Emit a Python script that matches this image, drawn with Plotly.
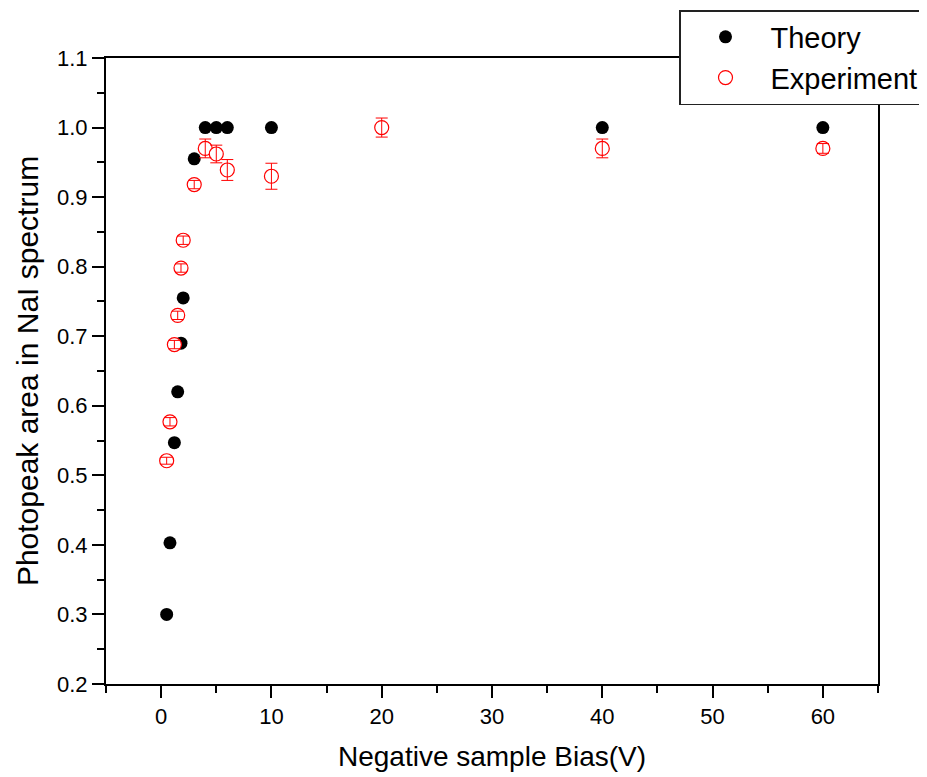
import plotly.graph_objects as go

theory_x = [0.5, 0.8, 1.2, 1.5, 1.8, 2.0, 3, 4, 5, 6, 10, 20, 40, 60]
theory_y = [0.300, 0.403, 0.547, 0.620, 0.690, 0.755, 0.955, 1.0, 1.0, 1.0, 1.0, 1.0, 1.0, 1.0]

exp_x = [0.5, 0.8, 1.2, 1.5, 1.8, 2.0, 3, 4, 5, 6, 10, 20, 40, 60]
exp_y = [0.521, 0.577, 0.688, 0.730, 0.798, 0.838, 0.918, 0.970, 0.962, 0.939, 0.930, 1.000, 0.970, 0.970]
exp_err = [0.005, 0.006, 0.006, 0.006, 0.006, 0.006, 0.006, 0.0135, 0.0127, 0.015, 0.0187, 0.0137, 0.0135, 0.007]

y_ticks = [0.2, 0.3, 0.4, 0.5, 0.6, 0.7, 0.8, 0.9, 1.0, 1.1]
x_ticks = [0, 10, 20, 30, 40, 50, 60]

FONT = "Liberation Sans, Arial, sans-serif"

fig = go.Figure()
fig.add_trace(go.Scatter(
    x=theory_x, y=theory_y, mode="markers", name="Theory",
    marker=dict(symbol="circle", size=13, color="black", line=dict(width=0)),
))
fig.add_trace(go.Scatter(
    x=exp_x, y=exp_y, mode="markers", name="Experiment",
    marker=dict(symbol="circle", size=14, color="white", line=dict(color="red", width=1.2)),
))
fig.add_trace(go.Scatter(
    x=exp_x, y=exp_y, mode="markers", showlegend=False, hoverinfo="skip",
    marker=dict(size=1, color="rgba(0,0,0,0)"),
    error_y=dict(type="data", array=exp_err, visible=True, color="red", thickness=1, width=6),
))

axis_common = dict(
    showgrid=False, zeroline=False, showline=True, linecolor="black", linewidth=2,
    mirror=True, ticks="outside", ticklen=12, tickwidth=2, tickcolor="black",
    tickfont=dict(family=FONT, size=22, color="black"),
)

fig.update_xaxes(
    range=[-5, 65], tickvals=x_ticks,
    minor=dict(dtick=5, tick0=0, ticks="outside", ticklen=7, tickwidth=2, tickcolor="black"),
    title=dict(text="Negative sample Bias(V)", font=dict(family=FONT, size=28, color="black"), standoff=18),
    **axis_common,
)
fig.update_yaxes(
    range=[0.2, 1.1], tickvals=y_ticks, ticktext=[f"{v:.1f}" for v in y_ticks],
    minor=dict(dtick=0.05, tick0=0.2, ticks="outside", ticklen=7, tickwidth=2, tickcolor="black"),
    title=dict(text="Photopeak area in NaI spectrum", font=dict(family=FONT, size=30, color="black"), standoff=10),
    **axis_common,
)

# page body has an 8px margin, so the figure is laid out 8px smaller
fig.update_layout(
    width=919, height=769,
    margin=dict(l=98, r=49, t=50, b=93, autoexpand=False),
    paper_bgcolor="white", plot_bgcolor="white",
    showlegend=True,
    legend=dict(
        x=(671 - 98) / 772, y=1 + (50 - 2) / 626, xanchor="left", yanchor="top",
        bgcolor="white", bordercolor="#222", borderwidth=1.5,
        font=dict(family=FONT, size=29, color="black"),
        itemwidth=80, tracegroupgap=0,
    ),
)

fig.write_html("out.html")
